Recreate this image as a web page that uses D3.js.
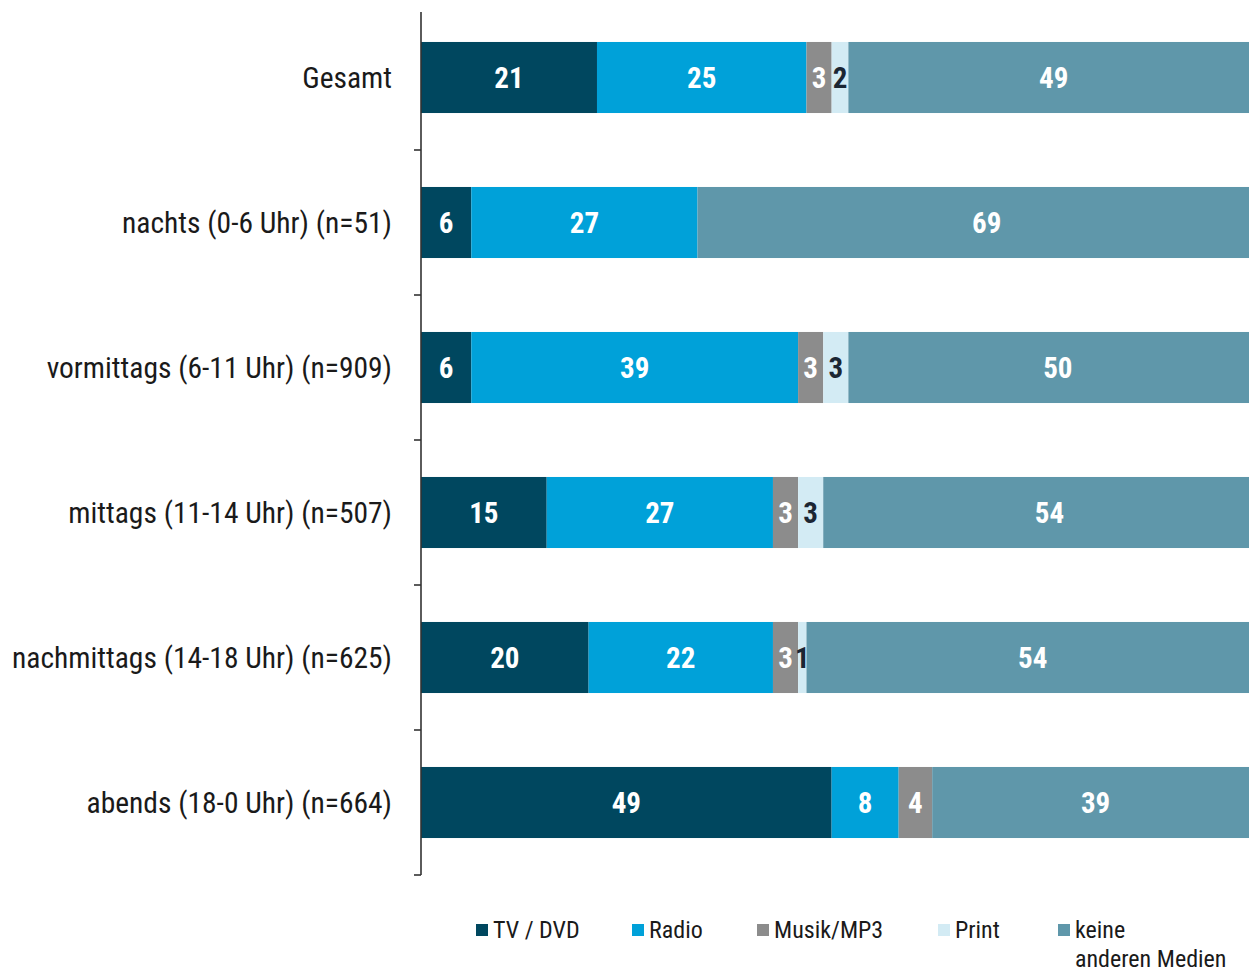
<!DOCTYPE html>
<html>
<head>
<meta charset="utf-8">
<script src="https://cdn.jsdelivr.net/npm/d3@7"></script>
<style>
  html, body { margin: 0; padding: 0; background: #fff; }
  svg { display: block; }
  text { font-family: "Liberation Sans Narrow", "Arial Narrow", "Roboto Condensed", sans-serif; }
</style>
</head>
<body>
<svg id="chart" width="1249" height="972"></svg>
<script>
// Time-of-day categories
const categories = [
  "Gesamt",
  "nachts (0-6 Uhr) (n=51)",
  "vormittags (6-11 Uhr) (n=909)",
  "mittags (11-14 Uhr) (n=507)",
  "nachmittags (14-18 Uhr) (n=625)",
  "abends (18-0 Uhr) (n=664)"
];

// Share (%) of parallel media use per category
const tvDvd  = [21, 6, 6, 15, 20, 49];
const radio  = [25, 27, 39, 27, 22, 8];
const musik  = [3, 0, 3, 3, 3, 4];
const print  = [2, 0, 3, 3, 1, 0];
const keine  = [49, 69, 50, 54, 54, 39];

const seriesNames = ["TV / DVD", "Radio", "Musik/MP3", "Print", "keine anderen Medien"];
const seriesValues = [tvDvd, radio, musik, print, keine];
const seriesColors = ["#00475f", "#00a1d9", "#8c8c8c", "#d3ebf4", "#5f97aa"];
const labelColors  = ["#ffffff", "#ffffff", "#ffffff", "#1b2633", "#ffffff"];

const svg = d3.select("#chart");

const x = d3.scaleLinear().domain([0, 100]).range([421, 1259]);
const y = d3.scaleBand().domain(categories).range([5, 875])
  .paddingInner(0.51).paddingOuter(0.255);

// Build stacked rows
const rows = categories.map((c, i) => {
  const r = { cat: c };
  seriesNames.forEach((s, j) => { r[s] = seriesValues[j][i]; });
  return r;
});
const stacked = d3.stack().keys(seriesNames)(rows);

const layers = svg.append("g").selectAll("g")
  .data(stacked)
  .join("g")
  .attr("fill", (d, i) => seriesColors[i]);

layers.selectAll("rect")
  .data(d => d.filter(p => p[1] - p[0] > 0))
  .join("rect")
  .attr("x", d => x(d[0]))
  .attr("y", d => y(d.data.cat))
  .attr("width", d => x(d[1]) - x(d[0]))
  .attr("height", y.bandwidth());

// Value labels
stacked.forEach((layer, i) => {
  svg.append("g").selectAll("text")
    .data(layer.filter(p => p[1] - p[0] > 0))
    .join("text")
    .attr("x", d => (x(d[0]) + x(d[1])) / 2)
    .attr("y", d => y(d.data.cat) + y.bandwidth() / 2)
    .attr("dy", "0.36em")
    .attr("text-anchor", "middle")
    .attr("fill", labelColors[i])
    .attr("font-size", 29)
    .attr("font-weight", "bold")
    .text(d => d[1] - d[0]);
});

// Left axis: vertical line with ticks at band boundaries
const axisG = svg.append("g").attr("stroke", "#333").attr("stroke-width", 1.6);
axisG.append("line")
  .attr("x1", x(0)).attr("x2", x(0))
  .attr("y1", 12).attr("y2", y.range()[1]);
const boundaries = categories.map(c => y(c) + y.bandwidth() + y.step() * y.paddingInner() / 2);
axisG.selectAll(".tick")
  .data(boundaries)
  .join("line")
  .attr("x1", x(0) - 7).attr("x2", x(0))
  .attr("y1", d => d).attr("y2", d => d);

// Category labels
svg.append("g").selectAll("text")
  .data(categories)
  .join("text")
  .attr("x", 392)
  .attr("y", d => y(d) + y.bandwidth() / 2)
  .attr("dy", "0.36em")
  .attr("text-anchor", "end")
  .attr("fill", "#1a1a1a")
  .attr("font-size", 29.5)
  .text(d => d);

// Legend
const legendX = [476, 632, 757, 938, 1058];
const legend = svg.append("g");
seriesNames.forEach((s, i) => {
  const g = legend.append("g").attr("transform", `translate(${legendX[i]},929)`);
  g.append("rect").attr("x", 0).attr("y", -5).attr("width", 12).attr("height", 12)
    .attr("fill", seriesColors[i]);
  const t = g.append("text").attr("x", 17).attr("y", 0).attr("dy", "0.36em")
    .attr("fill", "#1a1a1a").attr("font-size", 24);
  if (i === 4) {
    t.append("tspan").attr("x", 17).text("keine");
    t.append("tspan").attr("x", 17).attr("dy", 29).text("anderen Medien");
  } else {
    t.text(s);
  }
});
</script>
</body>
</html>
